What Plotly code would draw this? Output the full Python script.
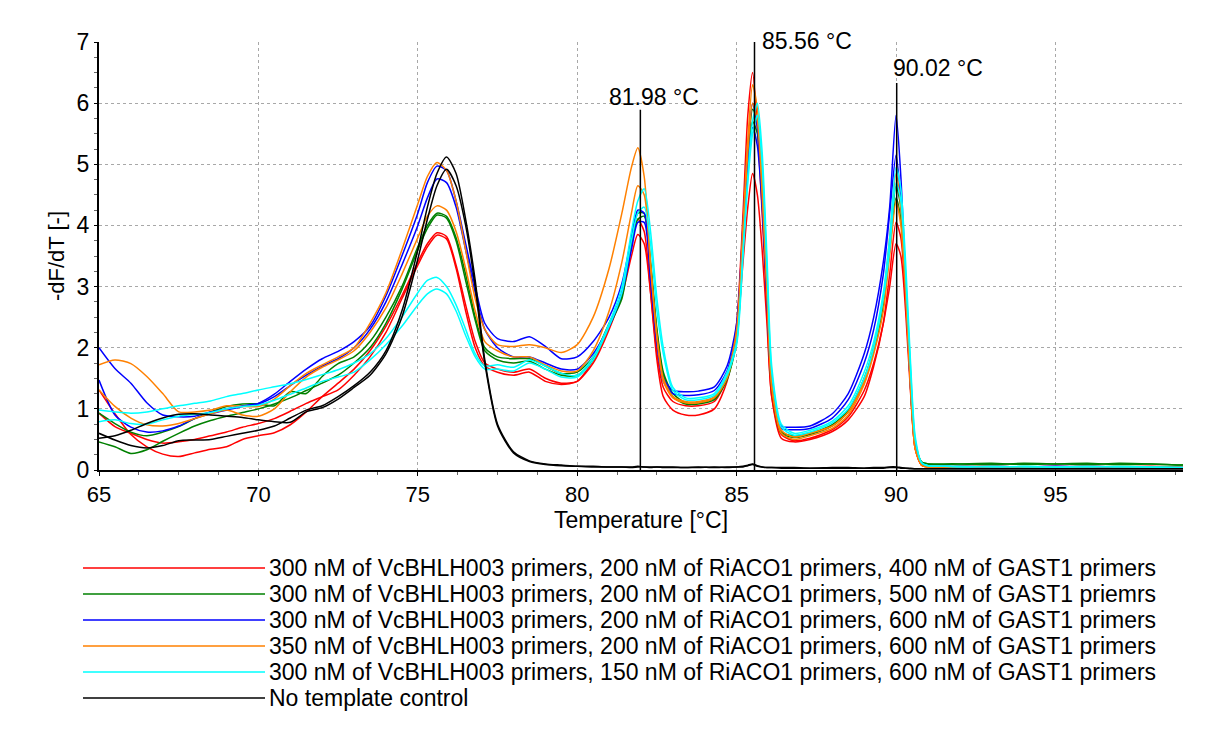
import plotly.graph_objects as go

temperature = [65, 65.5, 66, 66.5, 67, 67.5, 68, 68.5, 69, 69.5, 70, 70.5, 71, 71.5, 72, 72.5,
               73, 73.5, 74, 74.5, 75, 75.3, 75.6, 75.9, 76.2, 76.5, 76.8, 77.1, 77.5,
               78, 78.5, 79, 79.5, 80, 80.5, 81,
               81.4, 81.7, 81.9, 82.1, 82.3, 82.5, 82.7, 83.0,
               83.4, 83.8, 84.3, 84.7,
               85.0, 85.2, 85.35, 85.5, 85.65, 85.8, 85.95, 86.1, 86.4,
               86.8, 87.3, 88,
               88.5, 89, 89.3, 89.6, 89.8, 90.0, 90.15, 90.3, 90.45, 90.6, 90.8, 91.0,
               91.5, 92, 93, 94, 95, 96, 97, 98, 99]

red_a = [1.31, 0.92, 0.58, 0.38, 0.26, 0.22, 0.28, 0.34, 0.38, 0.50, 0.56, 0.61, 0.74, 0.95, 1.20, 1.42,
         1.65, 1.95, 2.35, 2.85, 3.40, 3.70, 3.88, 3.82, 3.35, 2.70, 2.10, 1.75, 1.65,
         1.60, 1.65, 1.50, 1.42, 1.45, 1.75, 2.30,
         2.90, 3.70, 4.10, 3.90, 2.90, 1.80, 1.20, 0.98,
         0.90, 0.90, 1.00, 1.45,
         2.40, 4.20, 5.80, 6.50, 5.60, 4.20, 2.60, 1.20, 0.52,
         0.46, 0.50, 0.63,
         0.82, 1.20, 1.70, 2.40, 3.20, 4.05, 3.80, 2.80, 1.40, 0.35, 0.08, 0.05,
         0.05, 0.05, 0.06, 0.05, 0.05, 0.06, 0.05, 0.05, 0.04]
red_b = [0.93, 0.71, 0.60, 0.50, 0.44, 0.46, 0.50, 0.56, 0.62, 0.70, 0.76, 0.84, 0.96, 1.09, 1.20, 1.31,
         1.55, 1.85, 2.25, 2.80, 3.35, 3.65, 3.84, 3.78, 3.30, 2.60, 2.00, 1.70, 1.60,
         1.55, 1.60, 1.45, 1.40, 1.45, 1.80, 2.35,
         2.85, 3.50, 3.85, 3.70, 2.90, 1.90, 1.35, 1.12,
         1.05, 1.05, 1.12, 1.50,
         2.20, 3.40, 4.30, 4.85, 4.50, 3.60, 2.40, 1.20, 0.58,
         0.48, 0.52, 0.66,
         0.87, 1.30, 1.75, 2.40, 3.00, 3.70, 3.50, 2.60, 1.30, 0.35, 0.08, 0.05,
         0.05, 0.06, 0.05, 0.05, 0.06, 0.05, 0.05, 0.06, 0.04]
green_a = [0.93, 0.76, 0.62, 0.56, 0.62, 0.71, 0.84, 0.95, 1.04, 1.08, 1.08, 1.05, 1.28, 1.25, 1.53, 1.74,
           1.85, 2.10, 2.50, 3.00, 3.65, 4.00, 4.20, 4.15, 3.80, 3.20, 2.50, 2.00, 1.85,
           1.82, 1.82, 1.70, 1.58, 1.60, 1.85, 2.40,
           2.85, 3.80, 4.20, 4.20, 3.40, 2.30, 1.60, 1.25,
           1.10, 1.10, 1.17, 1.50,
           2.15, 3.80, 5.10, 5.90, 5.70, 4.60, 3.00, 1.40, 0.62,
           0.56, 0.60, 0.74,
           0.98, 1.50, 2.00, 2.80, 3.70, 4.65, 4.30, 3.10, 1.60, 0.45, 0.13, 0.10,
           0.10, 0.10, 0.09, 0.11, 0.10, 0.09, 0.11, 0.10, 0.08]
green_b = [0.46, 0.38, 0.27, 0.33, 0.47, 0.60, 0.72, 0.81, 0.88, 0.94, 1.00, 1.08, 1.18, 1.30, 1.42, 1.55,
           1.75, 2.00, 2.40, 2.95, 3.60, 3.95, 4.17, 4.12, 3.75, 3.10, 2.45, 1.95, 1.80,
           1.75, 1.78, 1.65, 1.55, 1.55, 1.80, 2.35,
           2.80, 3.70, 4.10, 4.15, 3.35, 2.25, 1.55, 1.20,
           1.08, 1.08, 1.15, 1.48,
           2.10, 3.70, 5.00, 5.70, 5.50, 4.40, 2.90, 1.35, 0.60,
           0.53, 0.58, 0.72,
           0.95, 1.45, 1.95, 2.70, 3.60, 4.45, 4.10, 3.00, 1.50, 0.45, 0.13, 0.10,
           0.09, 0.10, 0.11, 0.09, 0.10, 0.11, 0.09, 0.10, 0.08]
blue_a = [2.00, 1.66, 1.42, 1.10, 0.90, 0.87, 0.88, 0.95, 1.00, 1.05, 1.09, 1.24, 1.45, 1.65, 1.82, 1.94,
          2.10, 2.35, 2.85, 3.50, 4.20, 4.70, 4.97, 4.90, 4.40, 3.70, 3.00, 2.40, 2.15,
          2.10, 2.18, 2.02, 1.82, 1.85, 2.10, 2.50,
          3.05, 3.80, 4.25, 4.20, 3.15, 2.10, 1.50, 1.30,
          1.28, 1.29, 1.36, 1.70,
          2.40, 4.00, 5.30, 6.00, 5.60, 4.50, 2.90, 1.45, 0.72,
          0.70, 0.72, 0.92,
          1.25, 1.90, 2.50, 3.40, 4.30, 5.80, 4.80, 3.10, 1.40, 0.40, 0.10, 0.06,
          0.06, 0.05, 0.06, 0.05, 0.05, 0.06, 0.05, 0.05, 0.04]
blue_b = [1.47, 0.90, 0.70, 0.62, 0.64, 0.72, 0.84, 0.92, 0.98, 1.04, 1.08, 1.20, 1.38, 1.55, 1.70, 1.82,
          2.00, 2.30, 2.75, 3.35, 4.00, 4.45, 4.76, 4.70, 4.30, 3.60, 2.90, 2.30, 2.00,
          1.85, 1.85, 1.75, 1.65, 1.65, 1.90, 2.35,
          2.90, 3.60, 4.05, 4.05, 3.10, 2.05, 1.45, 1.25,
          1.22, 1.23, 1.30, 1.62,
          2.30, 3.80, 5.00, 5.60, 5.30, 4.30, 2.80, 1.40, 0.68,
          0.66, 0.68, 0.85,
          1.15, 1.75, 2.30, 3.20, 4.20, 5.15, 4.40, 3.00, 1.40, 0.40, 0.10, 0.06,
          0.05, 0.06, 0.05, 0.05, 0.06, 0.05, 0.05, 0.05, 0.04]
orange_a = [1.72, 1.80, 1.74, 1.53, 1.25, 0.95, 0.95, 0.98, 1.05, 1.04, 1.04, 1.16, 1.38, 1.58, 1.72, 1.85,
            2.00, 2.40, 2.90, 3.60, 4.35, 4.80, 5.03, 4.90, 4.40, 3.60, 2.80, 2.30, 2.05,
            2.02, 2.05, 2.00, 1.92, 2.05, 2.50, 3.30,
            4.20, 4.95, 5.27, 4.80, 3.40, 2.20, 1.50, 1.20,
            1.12, 1.12, 1.20, 1.55,
            2.30, 4.00, 5.40, 6.30, 5.90, 4.70, 3.00, 1.40, 0.65,
            0.54, 0.60, 0.72,
            0.95, 1.45, 2.00, 2.80, 3.80, 4.85, 4.30, 3.00, 1.40, 0.35, 0.08, 0.05,
            0.05, 0.05, 0.06, 0.05, 0.05, 0.05, 0.06, 0.05, 0.04]
orange_b = [1.31, 1.04, 0.85, 0.74, 0.72, 0.76, 0.84, 0.92, 0.98, 0.90, 0.88, 1.00, 1.28, 1.52, 1.68, 1.80,
            1.95, 2.25, 2.65, 3.20, 3.80, 4.15, 4.32, 4.25, 3.90, 3.30, 2.60, 2.10, 1.95,
            1.85, 1.85, 1.72, 1.62, 1.62, 1.95, 2.60,
            3.40, 4.20, 4.65, 4.50, 3.30, 2.15, 1.45, 1.18,
            1.10, 1.10, 1.18, 1.50,
            2.20, 3.85, 5.20, 6.00, 5.70, 4.50, 2.90, 1.35, 0.60,
            0.50, 0.56, 0.68,
            0.90, 1.40, 1.90, 2.60, 3.50, 4.40, 4.00, 2.90, 1.35, 0.35, 0.08, 0.05,
            0.05, 0.06, 0.05, 0.05, 0.05, 0.06, 0.05, 0.05, 0.04]
cyan_a = [0.98, 0.95, 0.93, 0.95, 1.00, 1.05, 1.09, 1.13, 1.20, 1.25, 1.31, 1.36, 1.41, 1.48, 1.56, 1.64,
          1.75, 1.90, 2.15, 2.50, 2.90, 3.10, 3.15, 3.00, 2.70, 2.30, 1.90, 1.70, 1.72,
          1.68, 1.80, 1.70, 1.58, 1.55, 1.85, 2.40,
          3.00, 3.90, 4.40, 4.60, 3.90, 2.80, 2.00, 1.35,
          1.18, 1.18, 1.25, 1.60,
          2.10, 3.60, 4.80, 5.70, 6.00, 5.20, 3.50, 1.70, 0.75,
          0.60, 0.65, 0.80,
          1.05, 1.60, 2.10, 2.90, 3.80, 4.95, 4.60, 3.40, 1.80, 0.55, 0.12, 0.07,
          0.06, 0.06, 0.05, 0.06, 0.05, 0.05, 0.06, 0.05, 0.04]
cyan_b = [0.79, 0.82, 0.76, 0.75, 0.82, 0.88, 0.91, 0.94, 1.00, 1.04, 1.06, 1.14, 1.24, 1.34, 1.45, 1.52,
          1.60, 1.80, 2.05, 2.35, 2.70, 2.88, 2.96, 2.88, 2.60, 2.20, 1.85, 1.65, 1.65,
          1.62, 1.75, 1.65, 1.52, 1.52, 1.80, 2.35,
          2.90, 3.75, 4.20, 4.30, 3.70, 2.60, 1.90, 1.30,
          1.15, 1.15, 1.22, 1.55,
          2.05, 3.50, 4.70, 5.50, 5.80, 5.00, 3.30, 1.60, 0.70,
          0.57, 0.62, 0.77,
          1.00, 1.50, 2.00, 2.80, 3.60, 4.70, 4.40, 3.20, 1.70, 0.50, 0.12, 0.07,
          0.06, 0.05, 0.06, 0.05, 0.05, 0.06, 0.05, 0.05, 0.04]
black_a = [0.60, 0.49, 0.40, 0.36, 0.40, 0.48, 0.49, 0.50, 0.55, 0.60, 0.65, 0.72, 0.85, 0.98, 1.05, 1.20,
           1.38, 1.60, 1.95, 2.60, 3.60, 4.30, 4.85, 5.12, 4.85, 4.10, 3.10, 1.80, 0.75,
           0.30, 0.15, 0.10, 0.08, 0.06, 0.06, 0.05,
           0.05, 0.05, 0.06, 0.05, 0.05, 0.05, 0.05, 0.05,
           0.04, 0.05, 0.04, 0.05,
           0.05, 0.06, 0.08, 0.10, 0.07, 0.05, 0.04, 0.04, 0.04,
           0.04, 0.03, 0.04,
           0.04, 0.03, 0.04, 0.04, 0.05, 0.05, 0.04, 0.03, 0.03, 0.02, 0.02, 0.02,
           0.02, 0.02, 0.02, 0.02, 0.02, 0.02, 0.02, 0.02, 0.02]
black_b = [0.52, 0.56, 0.65, 0.76, 0.85, 0.91, 0.92, 0.90, 0.88, 0.86, 0.82, 0.79, 0.78, 0.95, 1.02, 1.16,
           1.35, 1.55, 1.90, 2.50, 3.45, 4.10, 4.65, 4.92, 4.65, 4.00, 3.00, 1.75, 0.72,
           0.28, 0.14, 0.09, 0.07, 0.06, 0.05, 0.05,
           0.05, 0.04, 0.05, 0.05, 0.04, 0.05, 0.04, 0.04,
           0.04, 0.04, 0.05, 0.04,
           0.05, 0.05, 0.07, 0.09, 0.06, 0.05, 0.04, 0.04, 0.03,
           0.03, 0.03, 0.03,
           0.03, 0.03, 0.03, 0.03, 0.04, 0.04, 0.03, 0.03, 0.02, 0.02, 0.02, 0.02,
           0.02, 0.02, 0.02, 0.02, 0.02, 0.02, 0.02, 0.02, 0.02]

series_names = [
    "300 nM of VcBHLH003 primers, 200 nM of RiACO1 primers, 400 nM of GAST1 primers",
    "300 nM of VcBHLH003 primers, 200 nM of RiACO1 primers, 500 nM of GAST1 priemrs",
    "300 nM of VcBHLH003 primers, 200 nM of RiACO1 primers, 600 nM of GAST1 primers",
    "350 nM of VcBHLH003 primers, 200 nM of RiACO1 primers, 600 nM of GAST1 primers",
    "300 nM of VcBHLH003 primers, 150 nM of RiACO1 primers, 600 nM of GAST1 primers",
    "No template control",
]
series_colors = ["#FF0000", "#008000", "#0000FF", "#FF8000", "#00FFFF", "#000000"]
replicates = [[red_a, red_b], [green_a, green_b], [blue_a, blue_b],
              [orange_a, orange_b], [cyan_a, cyan_b], [black_a, black_b]]

peak_temps = [81.98, 85.56, 90.02]
peak_line_tops = [5.89, 7.0, 6.33]
peak_labels = ["81.98 °C", "85.56 °C", "90.02 °C"]

x_ticks = [65, 70, 75, 80, 85, 90, 95]
y_ticks = [0, 1, 2, 3, 4, 5, 6, 7]

FONT = "Liberation Sans, Arial, sans-serif"
W, H = 1216, 733
ML, MR, MT, MB = 99, 33, 42, 263
PW, PH = W - ML - MR, H - MT - MB


def px_to_paper_x(px):
    return (px - ML) / PW


def px_to_paper_y(py):
    return (H - MB - py) / PH


fig = go.Figure()

for name, color, reps in zip(series_names, series_colors, replicates):
    for i, ys in enumerate(reps):
        fig.add_trace(go.Scatter(
            x=temperature, y=ys, mode="lines", name=name,
            legendgroup=name, showlegend=False,
            line=dict(color=color, width=1.5, shape="spline", smoothing=0.7),
        ))

for t, top in zip(peak_temps, peak_line_tops):
    fig.add_trace(go.Scatter(x=[t, t], y=[0, top], mode="lines", showlegend=False,
                             line=dict(color="black", width=1.5), hoverinfo="skip"))

fig.add_annotation(x=peak_temps[0], y=6.1, text=peak_labels[0], showarrow=False,
                   xanchor="center", yanchor="middle", xshift=14,
                   font=dict(family=FONT, size=23, color="black"))
fig.add_annotation(x=peak_temps[1], xref="x", y=px_to_paper_y(41), yref="paper",
                   text=peak_labels[1], showarrow=False,
                   xanchor="left", yanchor="middle", xshift=5,
                   font=dict(family=FONT, size=23, color="black"))
fig.add_annotation(x=peak_temps[2], y=6.57, text=peak_labels[2], showarrow=False,
                   xanchor="left", yanchor="middle", xshift=-6,
                   font=dict(family=FONT, size=23, color="black"))

# legend drawn below the plot: sample line + label per series
legend_top = 568
legend_step = 26
for i, (name, color) in enumerate(zip(series_names, series_colors)):
    yy = px_to_paper_y(legend_top + i * legend_step)
    fig.add_shape(type="line", xref="paper", yref="paper",
                  x0=px_to_paper_x(83), x1=px_to_paper_x(265), y0=yy, y1=yy,
                  line=dict(color=color, width=1.5))
    fig.add_annotation(xref="paper", yref="paper", x=px_to_paper_x(267), y=yy,
                       text=name, showarrow=False, xanchor="left", yanchor="middle",
                       font=dict(family=FONT, size=23, color="black"))

fig.update_layout(
    width=W, height=H,
    margin=dict(l=ML, r=MR, t=MT, b=MB, autoexpand=False),
    paper_bgcolor="white", plot_bgcolor="white",
    font=dict(family=FONT, size=22, color="black"),
    showlegend=False,
    xaxis=dict(range=[65, 99], tickvals=x_ticks, showline=True, linecolor="black", linewidth=2,
               ticks="outside", ticklen=4, tickcolor="black", tickfont=dict(size=22),
               showgrid=True, gridcolor="#a8a8a8", griddash="dot", gridwidth=1, zeroline=False,
               minor=dict(dtick=1.25, ticks="outside", ticklen=3, tickcolor="#666", showgrid=False),
               title=dict(text="Temperature [°C]", font=dict(size=23), standoff=4)),
    yaxis=dict(range=[0, 7], tickvals=y_ticks, showline=True, linecolor="black", linewidth=2,
               ticks="outside", ticklen=3, tickcolor="black", tickfont=dict(size=23),
               showgrid=True, gridcolor="#a8a8a8", griddash="dot", gridwidth=1, zeroline=False,
               minor=dict(dtick=0.25, ticks="outside", ticklen=3, tickcolor="#666", showgrid=False),
               title=dict(text="-dF/dT [-]", font=dict(size=22), standoff=6)),
)

fig.write_html("out.html")
